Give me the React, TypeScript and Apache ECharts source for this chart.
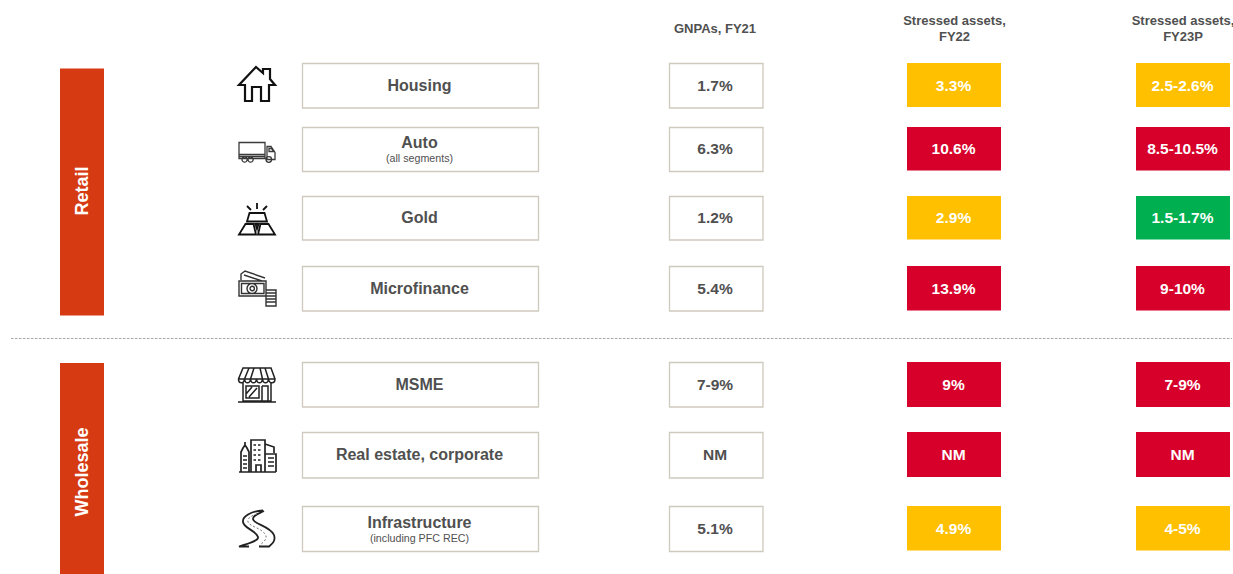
import React, { useEffect, useRef } from "react";
import * as echarts from "echarts";

// ---------- data ----------
const categories = ["Housing", "Auto", "Gold", "Microfinance", "MSME", "Real estate, corporate", "Infrastructure"];
const subLabels = ["", "(all segments)", "", "", "", "", "(including PFC REC)"];
const gnpaFY21 = ["1.7%", "6.3%", "1.2%", "5.4%", "7-9%", "NM", "5.1%"];
const stressedFY22 = ["3.3%", "10.6%", "2.9%", "13.9%", "9%", "NM", "4.9%"];
const stressedFY23P = ["2.5-2.6%", "8.5-10.5%", "1.5-1.7%", "9-10%", "7-9%", "NM", "4-5%"];
const toneFY22 = ["amber", "red", "amber", "red", "red", "red", "amber"];
const toneFY23P = ["amber", "red", "green", "red", "red", "red", "amber"];
const segments = ["Retail", "Wholesale"];
const headers = [["GNPAs, FY21"], ["Stressed assets,", "FY22"], ["Stressed assets,", "FY23P"]];

// ---------- layout and style ----------
const W = 1233;
const H = 574;
const outlineTop = [63.5, 127.5, 196.5, 266.5, 362.5, 432.5, 506.5];
const outlineH = [44.5, 44, 43.5, 44.5, 44.5, 45.5, 45];
const fillTop = [63, 127, 196, 266, 362, 432, 506];
const fillH = [44, 43.5, 43.5, 44.5, 45, 45, 44.5];
const valueCenter = [85, 148, 217, 288, 384, 454, 528];
const labelCol = { x: 302.5, w: 236, textX: 419.5 };
const gnpaCol = { x: 669.5, w: 93.5, textX: 715 };
const fy22Col = { x: 907, w: 94, textX: 953.5 };
const fy23Col = { x: 1136, w: 94, textX: 1182.5 };
const segBars = [
  { x: 60, y: 68.5, w: 44, h: 247, textY: 191 },
  { x: 60, y: 363, w: 44, h: 211, textY: 472 },
];
const toneColor: Record<string, string> = { amber: "#FFC000", red: "#D6002A", green: "#00B050" };
const BORDER = "#CFC9BE";
const INK = "#505050";
const FONT = '"Liberation Sans", Arial, sans-serif';

// ---------- icons (local px coordinates) ----------
const iconPaths: Record<string, string> = {
  house: "M18 1 L25 7 L25 3 L32 3 L32 13 L37 19 L31 19 L31 35 L23 35 L23 21 L14 21 L14 35 L7 35 L7 19 L1 19 Z",
  truck:
    "M1 1 L27 1 L27 17 L1 17 Z M1 13 L27 13 M1 15 L27 15 M29 5 L33 5 L37 11 L37 18 L29 18 Z M31 7 L33.5 7 L35.5 10 L31 10 Z M4 18 A2.6 2.6 0 1 0 9.2 18 A2.6 2.6 0 1 0 4 18 M10 18 A2.6 2.6 0 1 0 15.2 18 A2.6 2.6 0 1 0 10 18 M28 18 A2.8 2.8 0 1 0 33.6 18 A2.8 2.8 0 1 0 28 18",
  gold: "M19 0 L19 6 M9 3 L13 7 M29 3 L25 7 M11.500 10 L26.500 10 L29 18.500 L9 18.500 Z M7.500 21 L15.500 21 L18 31.500 L1 31.500 Z M22.500 21 L30.500 21 L37 31.500 L20 31.500 Z M17.500 21 L20.500 21 L19 26 Z",
  money:
    "M3 10 L3 4 L7 1 L27 8 M6 5 L24 11 M1 11 L28 11 L28 26 L1 26 Z M3.500 13.500 L26 13.500 L26 23.500 L3.500 23.500 Z M9 18.500 A5 5 0 1 0 19 18.500 A5 5 0 1 0 9 18.500 M12 18.500 A2.200 2.200 0 1 0 16.400 18.500 A2.200 2.200 0 1 0 12 18.500 M28 20 L38 20 L38 36 L28 36 Z M28 23 L38 23 M28 26 L38 26 M28 29 L38 29 M28 32 L38 32",
  shop: "M5 1 L33 1 L37 12 C37 17 31 17 30.500 12 C30 17 25 17 24.500 12 C24 17 19 17 18.500 12 C18 17 13 17 12.500 12 C12 17 7 17 6.500 12 C6 17 0.500 17 0.500 12 Z M0.500 12 L37 12 M11 1 L6.500 12 M16 1 L12.500 12 M22 1 L24.500 12 M27 1 L30.500 12 M5 15 L5 34 L33 34 L33 15 M8 19 L21 19 L21 31 L8 31 Z M8 27 L14 20 M11 30 L19 21 M24 19 L30 19 L30 34 M24 19 L24 34 M0 35 L38 35",
  city: "M3 36 L3 16 L5 12 L7 9 L9 12 L11 16 L11 36 M7 9 L7 6 M1 36 L38 36 M5 20 L9 20 M5 24 L9 24 M5 28 L9 28 M5 32 L9 32 M13 36 L13 4 L27 4 L27 36 M18 36 L18 29 L23 29 L23 36 M27 8 L36 11 L36 17 M27 18 L38 18 L38 36 M30 22 L36 22 M30 26 L36 26 M30 30 L36 30 M15.500 9 L18 9 M20 9 L22.500 9 M15.500 14 L18 14 M20 14 L22.500 14 M15.500 19 L18 19 M20 19 L22.500 19 M15.500 24 L18 24 M20 24 L22.500 24",
  road: "M25 0.500 C14 1 4 6 5 12 C6 19 18 20 20 27 C21 31 8 34 1 36.500 L11 36.500 M26 1 C20 4 15 5 15 9 C15 14 32 16 36 25 C38 31 34 34 31 36.500 L21 36.500",
  roadLane: "M19 4 C12 6 9 9 10 12 C12 17 25 18 28 26 C29 30 24 33 21 36",
};
const icons = [
  { name: "house", x: 238, y: 66, lw: 2.2, color: "#111111" },
  { name: "truck", x: 238, y: 141.5, lw: 1.3, color: "#3A3A3A" },
  { name: "gold", x: 238, y: 203, lw: 1.8, color: "#111111" },
  { name: "money", x: 238, y: 270, lw: 1.4, color: "#333333" },
  { name: "shop", x: 238, y: 367, lw: 1.5, color: "#222222" },
  { name: "city", x: 238, y: 436, lw: 1.7, color: "#222222" },
  { name: "road", x: 238, y: 510, lw: 1.8, color: "#222222" },
  { name: "roadLane", x: 238, y: 510, lw: 1, color: "#777777", dash: [2, 2] },
];
Object.keys(iconPaths).forEach((k) => {
  echarts.graphic.registerShape("icon-" + k, echarts.graphic.extendPath(iconPaths[k], {}));
});

function textEl(text: string, x: number, y: number, size: number, fill: string, weight = "bold", rotation = 0) {
  return {
    type: "text",
    x,
    y,
    rotation,
    style: { text, x: 0, y: 0, fill, font: `${weight} ${size}px ${FONT}`, align: "center", verticalAlign: "middle" },
  };
}

function boxSeries(
  name: string,
  col: { x: number; w: number; textX: number },
  values: string[],
  tones: string[] | null,
) {
  return {
    type: "custom",
    name,
    silent: true,
    clip: false,
    data: values.map((_, i) => [col.x, valueCenter[i]]),
    renderItem: (params: any, api: any) => {
      const i = params.dataIndex;
      const tl = api.coord([col.x, (tones ? fillTop : outlineTop)[i]]);
      const br = api.coord([col.x + col.w, (tones ? fillTop : outlineTop)[i] + (tones ? fillH : outlineH)[i]]);
      const c = api.coord([col.textX, valueCenter[i]]);
      return {
        type: "group",
        children: [
          {
            type: "rect",
            shape: { x: tl[0], y: tl[1], width: br[0] - tl[0], height: br[1] - tl[1] },
            style: tones ? { fill: toneColor[tones[i]] } : { fill: "#FFFFFF", stroke: BORDER, lineWidth: 1.3 },
          },
          textEl(values[i], c[0], c[1], 15.5, tones ? "#FFFFFF" : INK),
        ],
      };
    },
  };
}

const labelSeries = {
  type: "custom",
  name: "Segment",
  silent: true,
  clip: false,
  data: categories.map((_, i) => [labelCol.x, valueCenter[i]]),
  renderItem: (params: any, api: any) => {
    const i = params.dataIndex;
    const tl = api.coord([labelCol.x, outlineTop[i]]);
    const br = api.coord([labelCol.x + labelCol.w, outlineTop[i] + outlineH[i]]);
    const c = api.coord([labelCol.textX, valueCenter[i]]);
    const children: any[] = [
      {
        type: "rect",
        shape: { x: tl[0], y: tl[1], width: br[0] - tl[0], height: br[1] - tl[1] },
        style: { fill: "#FFFFFF", stroke: BORDER, lineWidth: 1.3 },
      },
    ];
    if (subLabels[i]) {
      children.push(textEl(categories[i], c[0], c[1] - 6, 16, INK));
      children.push(textEl(subLabels[i], c[0], c[1] + 9.5, 10.7, INK, "normal"));
    } else {
      children.push(textEl(categories[i], c[0], c[1], 16, INK));
    }
    return { type: "group", children };
  },
};

const segmentSeries = {
  type: "custom",
  name: "Group",
  silent: true,
  clip: false,
  data: segments.map((_, i) => [segBars[i].x, segBars[i].y]),
  renderItem: (params: any, api: any) => {
    const b = segBars[params.dataIndex];
    const tl = api.coord([b.x, b.y]);
    const br = api.coord([b.x + b.w, b.y + b.h]);
    const c = api.coord([b.x + b.w / 2, b.textY]);
    return {
      type: "group",
      children: [
        {
          type: "rect",
          shape: { x: tl[0], y: tl[1], width: br[0] - tl[0], height: br[1] - tl[1] },
          style: { fill: "#D63A12" },
        },
        textEl(segments[params.dataIndex], c[0], c[1], 18, "#FFFFFF", "bold", Math.PI / 2),
      ],
    };
  },
};

const headerCenters = [
  { x: 715, y: [28.5] },
  { x: 954.5, y: [20.5, 36.5] },
  { x: 1183, y: [20.5, 36.5] },
];

export default function App() {
  const ref = useRef<HTMLDivElement>(null);
  useEffect(() => {
    document.body.style.margin = "0";
    const chart = echarts.init(ref.current!, null, { renderer: "svg" });
    chart.setOption({
      animation: false,
      backgroundColor: "#FFFFFF",
      grid: { left: 0, right: 0, top: 0, bottom: 0 },
      xAxis: { type: "value", min: 0, max: W, show: false },
      yAxis: { type: "value", min: 0, max: H, inverse: true, show: false },
      series: [
        segmentSeries,
        labelSeries,
        boxSeries("GNPAs, FY21", gnpaCol, gnpaFY21, null),
        boxSeries("Stressed assets, FY22", fy22Col, stressedFY22, toneFY22),
        boxSeries("Stressed assets, FY23P", fy23Col, stressedFY23P, toneFY23P),
      ],
      graphic: [
        {
          type: "line",
          shape: { x1: 11, y1: 338.5, x2: 1232, y2: 338.5 },
          style: { stroke: "#A6A6A6", lineWidth: 1, lineDash: [2.5, 1.5] },
        },
        ...headers.flatMap((lines, c) =>
          lines.map((t, l) => ({
            type: "text",
            x: headerCenters[c].x,
            y: headerCenters[c].y[l],
            style: {
              text: t,
              fill: INK,
              font: `bold 13px ${FONT}`,
              align: "center",
              verticalAlign: "middle",
            },
          })),
        ),
        ...icons.map((ic: any) => ({
          type: "icon-" + ic.name,
          x: ic.x,
          y: ic.y,
          style: { fill: "none", stroke: ic.color, lineWidth: ic.lw, lineDash: ic.dash },
        })),
      ],
    });
    return () => chart.dispose();
  }, []);
  return <div ref={ref} style={{ width: W, height: H }} />;
}
